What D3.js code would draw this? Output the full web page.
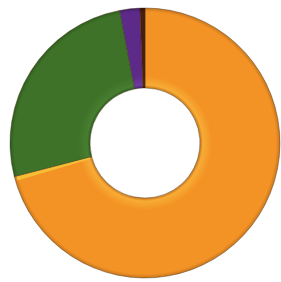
<!DOCTYPE html>
<html><head><meta charset="utf-8">
<script src="https://cdn.jsdelivr.net/npm/d3@7"></script>
<style>html,body{margin:0;padding:0;background:#fff;}svg{display:block;}</style>
</head><body>
<script>
const categories = ["Orange", "Green", "Purple", "Maroon"];
const values = [71.0, 26.0, 2.4, 0.6];
const colors = ["#F39325", "#3E7228", "#5E2A8A", "#4A1C12"];
const highlights = ["#F7AC35", "#477E30", "#6E3C9C", "#5C2A1C"];
const shades = ["#C8761E", "#2F5C1E", "#46206A", "#341008"];

const W = 281, H = 282;
const cx = 145, cy = 143, rOuter = 135, rInner = 55;

const svg = d3.select("body").append("svg").attr("width", W).attr("height", H);
const defs = svg.append("defs");

categories.forEach((c, i) => {
  const gr = defs.append("radialGradient").attr("id", "g" + i)
    .attr("gradientUnits", "userSpaceOnUse")
    .attr("cx", 0).attr("cy", 0).attr("r", rOuter);
  gr.append("stop").attr("offset", rInner / rOuter).attr("stop-color", shades[i]);
  gr.append("stop").attr("offset", (rInner + 3) / rOuter).attr("stop-color", highlights[i]);
  gr.append("stop").attr("offset", (rInner + 12) / rOuter).attr("stop-color", colors[i]);
  gr.append("stop").attr("offset", 0.97).attr("stop-color", colors[i]);
  gr.append("stop").attr("offset", 1).attr("stop-color", shades[i]);
});

const pie = d3.pie().value(d => d).sort(null).startAngle(0).endAngle(2 * Math.PI);
const arc = d3.arc().innerRadius(rInner).outerRadius(rOuter);
const arcs = pie(values);

const g = svg.append("g").attr("transform", `translate(${cx},${cy})`);
g.selectAll("path.slice").data(arcs).enter().append("path")
  .attr("class", "slice")
  .attr("d", arc)
  .attr("fill", (d, i) => `url(#g${i})`)
  .attr("stroke", "#3a2a10")
  .attr("stroke-opacity", 0.5)
  .attr("stroke-width", 0.8);

// yellow highlight along the orange slice's edge where it meets green
const edge = arcs[0].endAngle;
const hl = d3.arc().innerRadius(rInner + 2).outerRadius(rOuter - 2)
  .startAngle(edge - 0.035).endAngle(edge - 0.005);
g.append("path").attr("d", hl()).attr("fill", "#F4C53A").attr("opacity", 0.85);
</script>
</body></html>
